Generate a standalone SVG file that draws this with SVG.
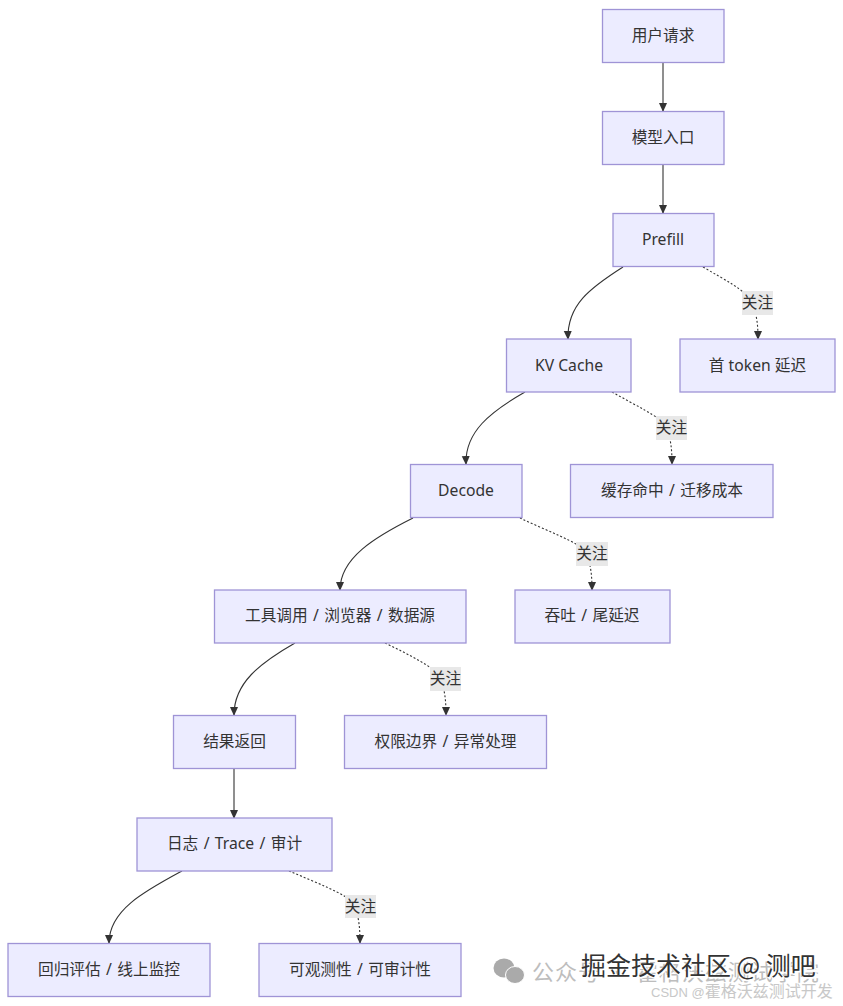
<svg xmlns="http://www.w3.org/2000/svg" width="843" height="1006" viewBox="0 0 843 1006">
<style>
text{font-family:"Liberation Sans","Noto Sans CJK SC",sans-serif}
.n rect{fill:#ececff;stroke:#9f94d6;stroke-width:1.3}
.n text{font-size:15.700px;fill:#333;text-anchor:middle;dominant-baseline:central;font-family:"Noto Sans","Noto Sans CJK SC",sans-serif}
.n .s{word-spacing:1.300px}
.c path{fill:none;stroke:#333;stroke-width:1.1}
.c .d{stroke-dasharray:2 2}
.l rect{fill:#e8e8e8}
.l text{font-size:15.700px;fill:#333;text-anchor:middle;dominant-baseline:central;font-family:"Noto Sans CJK SC",sans-serif}
.w{font-family:"Noto Sans CJK SC",sans-serif}
</style>
<defs><marker id="a" markerWidth="10" markerHeight="10" refX="8" refY="4" orient="auto" markerUnits="userSpaceOnUse"><path d="M0 0L9 4L0 8z" fill="#333"/></marker></defs>
<rect width="843" height="1006" fill="#fff"/>
<g class="c">
<path marker-end="url(#a)" d="M663 63V111"/>
<path marker-end="url(#a)" d="M663 165V213"/>
<path marker-end="url(#a)" d="M623 267C590 288 567 305 568 339"/>
<path marker-end="url(#a)" class="d" d="M703 267C725 280 745 290 750 300C757 312 758 325 758 339"/>
<path marker-end="url(#a)" d="M525 392C490 412 465 432 466 464"/>
<path marker-end="url(#a)" class="d" d="M612 392C635 405 660 417 665 425C671 437 672 450 672 464"/>
<path marker-end="url(#a)" d="M413 518C375 537 340 558 340 590"/>
<path marker-end="url(#a)" class="d" d="M520 518C545 530 580 543 585 551C591 563 592 576 592 590"/>
<path marker-end="url(#a)" d="M295 643C260 663 234 683 234 715"/>
<path marker-end="url(#a)" class="d" d="M385 643C410 655 435 668 439 676C445 688 446 701 446 715"/>
<path marker-end="url(#a)" d="M234 769V818"/>
<path marker-end="url(#a)" d="M182 871C145 891 109 910 109 943"/>
<path marker-end="url(#a)" class="d" d="M289 871C315 882 348 895 353 903C359 915 360 928 360 943"/>
</g>
<g class="c l">
<g><rect x="742" y="291" width="31" height="24"/><text x="757.500" y="301.500">关注</text></g>
<g><rect x="656" y="416" width="31" height="24"/><text x="671.500" y="426.500">关注</text></g>
<g><rect x="576" y="542" width="32" height="24"/><text x="592" y="552.500">关注</text></g>
<g><rect x="430" y="667" width="31" height="24"/><text x="445.500" y="677.500">关注</text></g>
<g><rect x="345" y="895" width="31" height="23"/><text x="360.500" y="905">关注</text></g>
</g>
<g class="n" id="n1"><rect x="602.500" y="9.500" width="121.500" height="53"/><text x="663" y="34.500">用户请求</text></g>
<g class="n" id="n2"><rect x="602.500" y="111.500" width="121.500" height="53"/><text x="663" y="136.500">模型入口</text></g>
<g class="n" id="n3"><rect x="613" y="213.500" width="101" height="53"/><text x="663" y="238.500">Prefill</text></g>
<g class="n" id="n4"><rect x="506.500" y="339" width="124.500" height="53"/><text x="569" y="364.500">KV Cache</text></g>
<g class="n" id="n5"><rect x="680" y="339" width="155" height="53"/><text x="757.500" y="364.500">首 token 延迟</text></g>
<g class="n" id="n6"><rect x="410.500" y="464.500" width="111.500" height="53"/><text x="466" y="489.500">Decode</text></g>
<g class="n" id="n7"><rect x="570.500" y="464.500" width="202.500" height="53"/><text class="s" x="672" y="489.500">缓存命中 / 迁移成本</text></g>
<g class="n" id="n8"><rect x="214.500" y="590" width="251.500" height="53"/><text class="s" x="340" y="615">工具调用 / 浏览器 / 数据源</text></g>
<g class="n" id="n9"><rect x="515" y="590" width="155" height="53"/><text class="s" x="592" y="615">吞吐 / 尾延迟</text></g>
<g class="n" id="n10"><rect x="173.500" y="715.500" width="122" height="53"/><text x="234.500" y="740.500">结果返回</text></g>
<g class="n" id="n11"><rect x="344.500" y="715.500" width="202" height="53"/><text class="s" x="445.500" y="740.500">权限边界 / 异常处理</text></g>
<g class="n" id="n12"><rect x="137" y="818" width="195" height="53"/><text class="s" x="234.500" y="843">日志 / Trace / 审计</text></g>
<g class="n" id="n13"><rect x="8" y="943.500" width="202" height="53"/><text class="s" x="109" y="968.500">回归评估 / 线上监控</text></g>
<g class="n" id="n14"><rect x="259" y="943.500" width="202" height="53"/><text class="s" x="360" y="968.500">可观测性 / 可审计性</text></g>
<g id="watermark">
<ellipse cx="504" cy="968" rx="10.500" ry="9.500" fill="#aaa"/><ellipse cx="515" cy="975" rx="9.500" ry="8.500" fill="#aaa" stroke="#fff"/>
<text class="w" x="532" y="980" font-size="22" letter-spacing="1" fill="#bdbdbd">公众号 · 霍格沃兹测试学院</text>
<text x="651" y="997" font-size="13" fill="#c8c8c8">CSDN @<tspan class="w" font-size="16">霍格沃兹测试开发</tspan></text>
<text class="w" x="582" y="976" font-size="25" fill="#fff" stroke="#fff" stroke-width="1.500">掘金技术社区 @ 测吧</text>
<text class="w" x="581" y="975" font-size="25" fill="#333">掘金技术社区 @ 测吧</text>
</g>
</svg>
